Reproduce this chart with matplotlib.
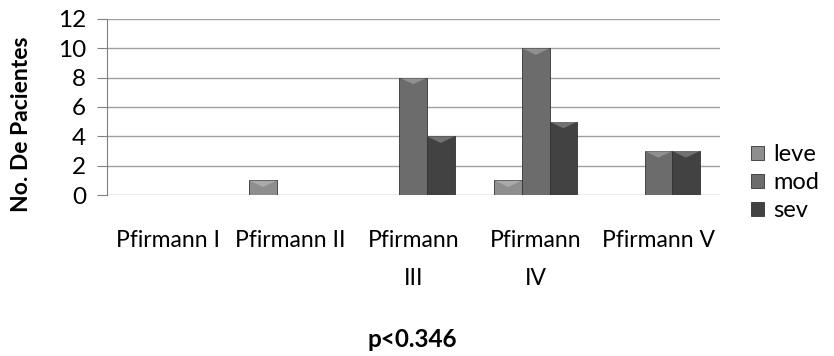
import matplotlib
matplotlib.use("Agg")
import matplotlib.pyplot as plt
import numpy as np
from matplotlib.patches import Polygon

categories = ["Pfirmann I", "Pfirmann II", "Pfirmann\nIII", "Pfirmann\nIV", "Pfirmann V"]
series_names = ["leve", "mod", "sev"]
leve = [0, 1, 0, 1, 0]
mod = [0, 0, 8, 10, 3]
sev = [0, 0, 4, 5, 3]
yticks = [0, 2, 4, 6, 8, 10, 12]

colors = ["#8e8e8e", "#6c6c6c", "#424242"]
plt.rcParams['font.family'] = ['Lato', 'DejaVu Sans']

fig = plt.figure(figsize=(8.34, 3.56), dpi=100)
ax = fig.add_axes([0.128, 0.452, 0.735, 0.495])

x = np.arange(len(categories))
w = 0.225
for i, (vals, c, name) in enumerate(zip([leve, mod, sev], colors, series_names)):
    bars = ax.bar(x + (i - 1) * w, vals, w, color=c, edgecolor="#333333",
                  linewidth=0.6, label=name, zorder=3)
    for b in bars:
        h = b.get_height()
        if h <= 0:
            continue
        x0 = b.get_x(); bw = b.get_width()
        d = min(0.45, h * 0.5)
        tri = Polygon([[x0, h], [x0 + bw, h], [x0 + bw / 2, h - d]],
                      closed=True, facecolor="white", alpha=0.25, edgecolor="none", zorder=4)
        ax.add_patch(tri)

ax.set_ylim(0, 12)
ax.set_yticks(yticks)
ax.set_xlim(-0.5, len(categories) - 0.5)
ax.set_xticks(x)
ax.set_xticklabels(categories, fontsize=16.5, linespacing=2.0, va="top")
ax.tick_params(axis="x", length=0, pad=25)
ax.tick_params(axis="y", labelsize=17.5, length=7, color="#808080", pad=8)
ax.grid(axis="y", color="#a0a0a0", linewidth=1, zorder=0)
for s in ["top", "right", "bottom"]:
    ax.spines[s].set_visible(False)
ax.spines["left"].set_color("#808080")

ax.set_ylabel("No. De Pacientes", fontsize=16.5, fontweight="bold")
ax.yaxis.set_label_coords(-0.122, 0.40)
fig.text(0.494, 0.045, "p<0.346", fontsize=17.5, fontweight="bold", ha="center", va="center")

leg = ax.legend(loc="center left", bbox_to_anchor=(1.035, 0.07), frameon=False,
                fontsize=17, handlelength=0.55, handleheight=0.55, labelspacing=0.3,
                handletextpad=0.4, borderaxespad=0)

fig.savefig("out.png", dpi=100)
